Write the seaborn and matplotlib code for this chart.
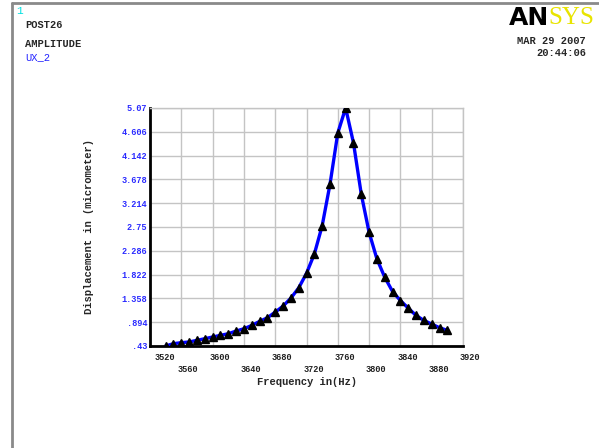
"""Harmonic response plot (ANSYS POST26 style) of UX_2 amplitude vs frequency."""

import matplotlib
matplotlib.use("Agg")

import matplotlib.pyplot as plt
import matplotlib.transforms as mtransforms
from matplotlib.lines import Line2D
import pandas as pd
import seaborn as sns


FREQUENCY_HZ = [
    3540, 3550, 3560, 3570, 3580, 3590, 3600, 3610, 3620, 3630,
    3640, 3650, 3660, 3670, 3680, 3690, 3700, 3710, 3720, 3730,
    3740, 3750, 3760, 3770, 3780, 3790, 3800, 3810, 3820, 3830,
    3840, 3850, 3860, 3870, 3880, 3890, 3900,
]
DISPLACEMENT_UM = [
    0.430, 0.475, 0.495, 0.508, 0.540, 0.572, 0.605, 0.637, 0.669, 0.721,
    0.766, 0.831, 0.909, 0.980, 1.090, 1.207, 1.362, 1.562, 1.847, 2.222,
    2.773, 3.581, 4.584, 5.070, 4.390, 3.387, 2.643, 2.125, 1.769, 1.491,
    1.316, 1.168, 1.025, 0.928, 0.857, 0.786, 0.734,
]
X_TICKS = [3520, 3560, 3600, 3640, 3680, 3720, 3760, 3800, 3840, 3880, 3920]
Y_TICKS = [0.43, 0.894, 1.358, 1.822, 2.286, 2.75, 3.214, 3.678, 4.142, 4.606, 5.07]
Y_TICK_LABELS = [".43", ".894", "1.358", "1.822", "2.286", "2.75",
                 "3.214", "3.678", "4.142", "4.606", "5.07"]

MONO = "Liberation Mono"
GRID_GREY = "#c4c4c4"


def main() -> None:
    sns.set_style("white")
    plt.rcParams["font.family"] = [MONO, "DejaVu Sans Mono"]

    frame = pd.DataFrame({"freq": FREQUENCY_HZ, "disp": DISPLACEMENT_UM})

    fig = plt.figure(figsize=(5.99, 4.48), dpi=100)
    ax = fig.add_axes([0.2504, 0.2277, 0.5226, 0.5313])

    sns.lineplot(data=frame, x="freq", y="disp", ax=ax, color="#0000ff",
                 linewidth=2.4, zorder=3)
    ax.plot(frame["freq"], frame["disp"], linestyle="none", marker="^",
            markersize=5.5, color="black", zorder=4)

    ax.set_xlim(X_TICKS[0], X_TICKS[-1])
    ax.set_ylim(Y_TICKS[0], Y_TICKS[-1])
    ax.set_xticks(X_TICKS)
    ax.set_xticklabels([str(t) for t in X_TICKS])
    ax.set_yticks(Y_TICKS)
    ax.set_yticklabels(Y_TICK_LABELS)
    ax.grid(True, color=GRID_GREY, linewidth=1.0)
    ax.tick_params(axis="both", length=0, labelsize=6.2)
    ax.tick_params(axis="y", pad=2, labelcolor="#2a2aff")
    ax.tick_params(axis="x", labelcolor="#202020")

    for side in ("left", "bottom"):
        ax.spines[side].set_color("black")
        ax.spines[side].set_linewidth(2.0)
    for side in ("top", "right"):
        ax.spines[side].set_color(GRID_GREY)
        ax.spines[side].set_linewidth(1.0)

    # staggered frequency labels, shifted a little right like the original
    for i, tick in enumerate(ax.xaxis.get_major_ticks()):
        tick.set_pad(5 if i % 2 == 0 else 14)
    for i, label in enumerate(ax.get_xticklabels()):
        dx = 15 if i == 0 else 7
        shift = mtransforms.ScaledTranslation(dx / 100, 0, fig.dpi_scale_trans)
        label.set_transform(label.get_transform() + shift)
        label.set_fontweight("bold")
    for label in ax.get_yticklabels():
        label.set_fontweight("bold")

    ax.set_xlabel("Frequency in(Hz)", fontsize=7.6, fontweight="bold",
                  labelpad=2)
    ax.set_ylabel("Displacement in (micrometer)", fontsize=7.6,
                  fontweight="bold", labelpad=20)

    # window frame
    fig.add_artist(Line2D([12 / 599, 1], [1 - 3 / 448, 1 - 3 / 448],
                          transform=fig.transFigure, color="#8a8a8a", linewidth=2))
    fig.add_artist(Line2D([12 / 599, 12 / 599], [0, 1 - 3 / 448],
                          transform=fig.transFigure, color="#8a8a8a", linewidth=2))

    fig.text(16 / 599, 1 - 11 / 448, "1", color="#00e0e0", fontsize=8, va="center")
    fig.text(25 / 599, 1 - 25 / 448, "POST26", fontsize=7.5, fontweight="bold",
             va="center")
    fig.text(25 / 599, 1 - 44 / 448, "AMPLITUDE", fontsize=7.5, fontweight="bold",
             va="center")
    fig.text(25 / 599, 1 - 57 / 448, "UX_2", fontsize=7.5, color="#2020ff",
             va="center")

    fig.text(549 / 599, 1 - 18 / 448, "AN", fontsize=18, fontweight="heavy",
             family="DejaVu Sans", ha="right", va="center", color="black")
    fig.text(548 / 599, 1 - 18 / 448, "SYS", fontsize=18,
             family="Liberation Serif", ha="left", va="center", color="#e8e400")
    fig.text(586 / 599, 1 - 41 / 448, "MAR 29 2007", fontsize=7.5,
             fontweight="bold", ha="right", va="center")
    fig.text(586 / 599, 1 - 53 / 448, "20:44:06", fontsize=7.5,
             fontweight="bold", ha="right", va="center")

    fig.savefig("out.png", dpi=100)
    plt.close(fig)


if __name__ == "__main__":
    main()
